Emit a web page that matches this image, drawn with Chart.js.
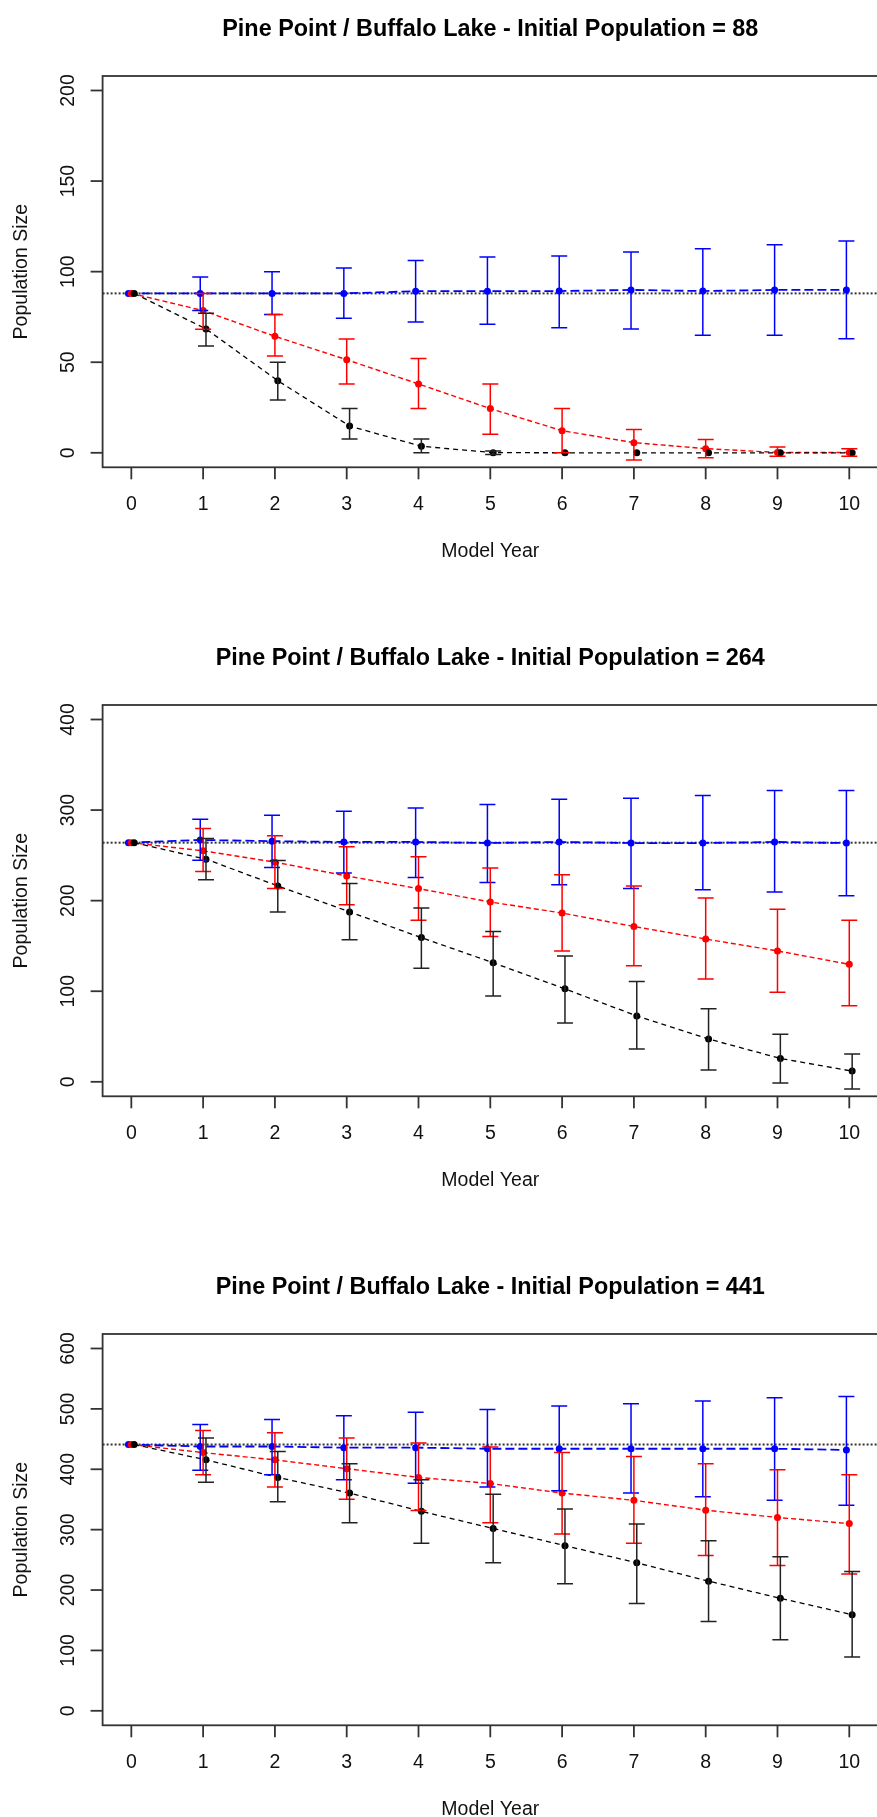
<!DOCTYPE html>
<html>
<head>
<meta charset="utf-8">
<title>Pine Point / Buffalo Lake</title>
<script src="https://cdn.jsdelivr.net/npm/chart.js@4.4.1/dist/chart.umd.min.js"></script>
<style>
    html, body { margin: 0; padding: 0; background: #fff; width: 877px; height: 1817px; overflow: hidden; }
    canvas { display: block; }
</style>
</head>
<body>
<canvas id="chart88" width="882" height="629"></canvas>
<canvas id="chart264" width="882" height="629"></canvas>
<canvas id="chart441" width="882" height="629"></canvas>

<script>
// model years and axis ticks
const years = [0, 1, 2, 3, 4, 5, 6, 7, 8, 9, 10];
const yTicks88 = [0, 50, 100, 150, 200];
const yTicks264 = [0, 100, 200, 300, 400];
const yTicks441 = [0, 100, 200, 300, 400, 500, 600];

// initial population = 88
const blueMean88 = [88, 88, 88, 88, 89.2, 89.2, 89.3, 89.9, 89.3, 89.9, 89.9];
const blueUpper88 = [88, 97.1, 100, 102, 106.1, 108.1, 108.7, 110.9, 112.7, 114.9, 116.9];
const blueLower88 = [88, 78.5, 76.3, 74.3, 72.2, 70.9, 69.1, 68.4, 64.9, 64.9, 63];
const redMean88 = [88, 78.5, 64.3, 51.4, 38, 24.4, 12.2, 5.6, 2.3, 0.2, 0.2];
const redUpper88 = [88, 88, 76.3, 62.8, 52, 38, 24.4, 12.8, 7.3, 3.2, 2.3];
const redLower88 = [88, 68.2, 53.4, 38, 24.4, 10.2, 0, -4, -2.7, -1.9, -1.9];
const blackMean88 = [88, 68.4, 39.8, 14.8, 3.6, 0.1, 0, 0, 0, 0, 0];
const blackUpper88 = [88, 77, 50, 24.4, 7.6, 1, 0, 0, 0, 0, 0];
const blackLower88 = [88, 59, 29.2, 7.6, 0, -1, 0, 0, 0, 0, 0];

// initial population = 264
const blueMean264 = [264, 267, 265.7, 264.8, 264.8, 263.6, 264.8, 263.6, 263.6, 264.8, 263.6];
const blueUpper264 = [264, 290, 294.4, 298.6, 302.4, 306.2, 312, 313, 316, 321.5, 321.5];
const blueLower264 = [264, 244.6, 236.5, 230.6, 225.6, 220, 217.5, 213.3, 212, 209.5, 205.3];
const redMean264 = [264, 255, 242.5, 227.3, 213.3, 198.5, 186.3, 171.5, 157.6, 144.5, 129.7];
const redUpper264 = [264, 279.6, 271.6, 259.4, 248.4, 236.1, 228.5, 216.3, 202.8, 190.5, 178.3];
const redLower264 = [264, 232.3, 213.3, 195.6, 178.3, 160.5, 144.5, 128, 113.6, 98.8, 84];
const blackMean264 = [264, 245.8, 216.3, 187.6, 159.2, 131.4, 102.6, 72.7, 47.3, 25.8, 11.8];
const blackUpper264 = [264, 268.7, 244.2, 218.8, 191.8, 166, 139, 110.7, 80.7, 52.4, 30.8];
const blackLower264 = [264, 223, 187.6, 156.7, 125.5, 94.6, 65, 36.3, 13.1, -1.3, -8];

// initial population = 441
const blueMean441 = [441, 437.7, 437.7, 435.8, 435.8, 434, 434, 434, 434, 434, 432];
const blueUpper441 = [441, 474.3, 482.5, 488.8, 494.5, 499, 504.6, 508.4, 512.9, 518.5, 520.4];
const blueLower441 = [441, 398.5, 391, 382.7, 377, 370.7, 364.4, 360.6, 354.3, 348.6, 340.4];
const redMean441 = [441, 427.6, 415.6, 401, 386.5, 376.4, 360.6, 348.6, 332.2, 320.2, 310];
const redUpper441 = [441, 464.2, 460.4, 451.6, 443.4, 437, 427.6, 421.3, 409.3, 399.2, 391];
const redLower441 = [441, 391, 370.7, 350.5, 331.6, 311.4, 293, 277.3, 257, 240.6, 226.7];
const blackMean441 = [441, 415.6, 386.5, 360.6, 330.3, 301.9, 273.5, 245, 214.7, 186.3, 159.2];
const blackUpper441 = [441, 451.6, 429.5, 409.3, 382.7, 358.7, 334, 309.5, 281.7, 255.2, 230.5];
const blackLower441 = [441, 378.3, 346, 311.4, 277.3, 245, 210.3, 177.5, 147.8, 117.5, 89];

const FONT = "'Liberation Sans', Arial, sans-serif";

// points are nudged a little sideways so the bars don't sit on top of each other
function toPoints(values, shift) {
    return values.map((v, i) => ({ x: years[i] + shift, y: v }));
}

// error bars with flat caps, like R's arrows(angle = 90, code = 3)
const errorBars = {
    id: "errorBars",
    afterDatasetsDraw(chart) {
        const ctx = chart.ctx;
        const yScale = chart.scales.y;
        const sets = chart.data.datasets;
        for (let i = sets.length - 1; i >= 0; i--) {
            const ds = sets[i];
            if (!ds.upper) continue;
            const meta = chart.getDatasetMeta(i);
            ctx.save();
            ctx.strokeStyle = ds.barColor;
            ctx.lineWidth = 1.5;
            meta.data.forEach((pt, j) => {
                if (ds.upper[j] === ds.lower[j]) return;
                const top = yScale.getPixelForValue(ds.upper[j]);
                const bottom = yScale.getPixelForValue(ds.lower[j]);
                ctx.beginPath();
                ctx.moveTo(pt.x, top);
                ctx.lineTo(pt.x, bottom);
                ctx.moveTo(pt.x - 8, top);
                ctx.lineTo(pt.x + 8, top);
                ctx.moveTo(pt.x - 8, bottom);
                ctx.lineTo(pt.x + 8, bottom);
                ctx.stroke();
            });
            ctx.restore();
        }
    }
};

// base-R style frame, ticks, labels and titles
const rFrame = {
    id: "rFrame",
    afterDraw(chart, args, opts) {
        const { ctx, chartArea: area, scales: { x, y } } = chart;
        ctx.save();
        ctx.strokeStyle = "#333";
        ctx.lineWidth = 1.8;
        ctx.strokeRect(area.left, area.top, area.right - area.left, area.bottom - area.top);

        ctx.fillStyle = "#111";
        ctx.font = "19.5px " + FONT;
        ctx.textAlign = "center";
        ctx.textBaseline = "alphabetic";

        // x axis
        years.forEach(v => {
            const px = x.getPixelForValue(v);
            ctx.beginPath();
            ctx.moveTo(px, area.bottom);
            ctx.lineTo(px, area.bottom + 12);
            ctx.stroke();
            ctx.fillText(String(v), px, area.bottom + 43);
        });
        ctx.fillText("Model Year", (area.left + area.right) / 2, area.bottom + 90);

        // y axis, labels turned on their side
        opts.yTicks.forEach(v => {
            const py = y.getPixelForValue(v);
            ctx.beginPath();
            ctx.moveTo(area.left, py);
            ctx.lineTo(area.left - 12, py);
            ctx.stroke();
            ctx.save();
            ctx.translate(area.left - 28.5, py);
            ctx.rotate(-Math.PI / 2);
            ctx.fillText(String(v), 0, 0);
            ctx.restore();
        });
        ctx.save();
        ctx.translate(27, (area.top + area.bottom) / 2);
        ctx.rotate(-Math.PI / 2);
        ctx.fillText("Population Size", 0, 0);
        ctx.restore();

        // main title
        ctx.fillStyle = "#000";
        ctx.font = "bold 23.4px " + FONT;
        ctx.fillText(opts.title, (area.left + area.right) / 2, 36);
        ctx.restore();
    }
};

function makeChart(canvasId, start, yTicks, blue, red, black) {
    const top = yTicks[yTicks.length - 1];
    const pad = top * 0.04;
    const ctx = document.getElementById(canvasId).getContext("2d");

    return new Chart(ctx, {
        type: "line",
        data: {
            datasets: [
                {
                    data: toPoints(black[0], 0.04),
                    upper: black[1], lower: black[2], barColor: "#222",
                    borderColor: "#000", borderWidth: 1.3, borderDash: [5, 4],
                    pointRadius: 3.5, pointBackgroundColor: "#000", pointBorderWidth: 0
                },
                {
                    data: toPoints(red[0], 0),
                    upper: red[1], lower: red[2], barColor: "#ff0000",
                    borderColor: "#ff0000", borderWidth: 1.4, borderDash: [5, 3],
                    pointRadius: 3.5, pointBackgroundColor: "#ff0000", pointBorderWidth: 0
                },
                {
                    data: toPoints(blue[0], -0.04),
                    upper: blue[1], lower: blue[2], barColor: "#0000ff",
                    borderColor: "#0000ff", borderWidth: 1.8, borderDash: [9, 4],
                    pointRadius: 3.5, pointBackgroundColor: "#0000ff", pointBorderWidth: 0
                },
                {
                    // starting population reference line
                    data: [{ x: -0.4, y: start }, { x: 10.4, y: start }],
                    borderColor: "#333", borderWidth: 2, borderDash: [2, 2],
                    pointRadius: 0
                }
            ]
        },
        options: {
            responsive: false,
            animation: false,
            devicePixelRatio: 1,
            layout: {
                padding: { left: 102.6, right: 2.5, top: 76, bottom: 161.7 }
            },
            scales: {
                x: { type: "linear", min: -0.4, max: 10.4, display: false },
                y: { type: "linear", min: -pad, max: top + pad, display: false }
            },
            plugins: {
                legend: { display: false },
                tooltip: { enabled: false },
                rFrame: {
                    title: "Pine Point / Buffalo Lake - Initial Population = " + start,
                    yTicks: yTicks
                }
            }
        },
        plugins: [errorBars, rFrame]
    });
}

makeChart("chart88", 88, yTicks88,
    [blueMean88, blueUpper88, blueLower88],
    [redMean88, redUpper88, redLower88],
    [blackMean88, blackUpper88, blackLower88]);

makeChart("chart264", 264, yTicks264,
    [blueMean264, blueUpper264, blueLower264],
    [redMean264, redUpper264, redLower264],
    [blackMean264, blackUpper264, blackLower264]);

makeChart("chart441", 441, yTicks441,
    [blueMean441, blueUpper441, blueLower441],
    [redMean441, redUpper441, redLower441],
    [blackMean441, blackUpper441, blackLower441]);
</script>
</body>
</html>
